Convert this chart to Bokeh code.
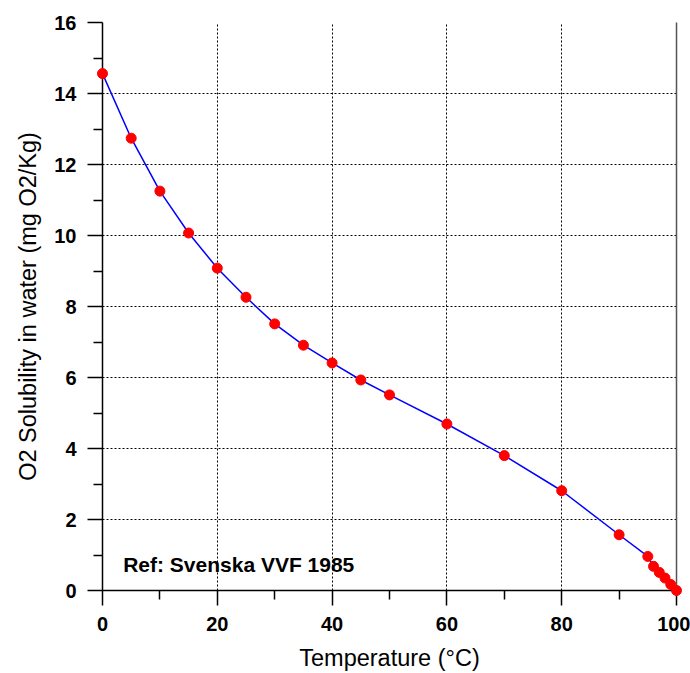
from bokeh.plotting import figure
from bokeh.models import Range1d, LinearAxis, FixedTicker, Label
from bokeh.embed import file_html
from bokeh.resources import INLINE

temperature = [0, 5, 10, 15, 20, 25, 30, 35, 40, 45, 50, 60, 70, 80, 90, 95, 96, 97, 98, 99, 100]
solubility = [14.56, 12.74, 11.25, 10.07, 9.08, 8.26, 7.51, 6.91, 6.41, 5.93, 5.51, 4.69, 3.80, 2.81, 1.57, 0.96, 0.68, 0.51, 0.35, 0.17, 0.0]
x_ticks = [0, 20, 40, 60, 80, 100]
x_minor = [10, 30, 50, 70, 90]
y_ticks = [0, 2, 4, 6, 8, 10, 12, 14, 16]
y_minor = [1, 3, 5, 7, 9, 11, 13, 15]

FONT = "Liberation Sans"

p = figure(width=690, height=673, output_backend="svg", toolbar_location=None,
           x_range=Range1d(0, 100), y_range=Range1d(0, 16),
           min_border_left=102, min_border_right=14, min_border_top=22, min_border_bottom=82)
p.outline_line_color = None
p.background_fill_color = "white"
p.border_fill_color = "white"

for ax, ticks, minor in ((p.xaxis[0], x_ticks, x_minor), (p.yaxis[0], y_ticks, y_minor)):
    ax.ticker = FixedTicker(ticks=ticks, minor_ticks=minor)
    ax.major_tick_out = 15
    ax.major_tick_in = 0
    ax.minor_tick_out = 9
    ax.minor_tick_in = 0
    ax.axis_line_color = "black"
    ax.axis_line_width = 1.5
    ax.major_tick_line_width = 1.5
    ax.minor_tick_line_width = 1.5
    ax.major_label_text_font = FONT
    ax.major_label_text_font_style = "bold"
    ax.major_label_text_font_size = "20px"
    ax.major_label_text_color = "black"
    ax.axis_label_text_font = FONT
    ax.axis_label_text_font_style = "normal"
    ax.axis_label_text_color = "black"
    ax.axis_label_text_font_size = "23.5px"

p.xaxis.major_label_standoff = 11
p.yaxis.major_label_standoff = 11
p.xaxis.axis_label = "Temperature (°C)"
p.yaxis.axis_label = "O2 Solubility in water (mg O2/Kg)"
p.xaxis.axis_label_standoff = 11
p.yaxis.axis_label_standoff = 10

right = LinearAxis(ticker=FixedTicker(ticks=[]), major_label_text_font_size="0px",
                   axis_line_color="#555555", axis_line_width=1.5,
                   major_tick_line_color=None, minor_tick_line_color=None)
p.add_layout(right, "right")

for g, ticks in ((p.xgrid[0], [20, 40, 60, 80]), (p.ygrid[0], [2, 4, 6, 8, 10, 12, 14, 16])):
    g.ticker = FixedTicker(ticks=ticks)
    g.grid_line_color = "black"
    g.grid_line_dash = "2 2"
    g.grid_line_width = 1

p.line(temperature, solubility, line_color="blue", line_width=1.5, level="overlay")
p.scatter(temperature, solubility, size=10, fill_color="red", line_color="red", level="overlay")

p.add_layout(Label(x=3.6, y=0.73, text="Ref: Svenska VVF 1985", text_font=FONT,
                   text_font_style="bold", text_font_size="21px", text_baseline="middle",
                   text_color="black"))

open("out.html", "w").write(file_html(p, INLINE))
